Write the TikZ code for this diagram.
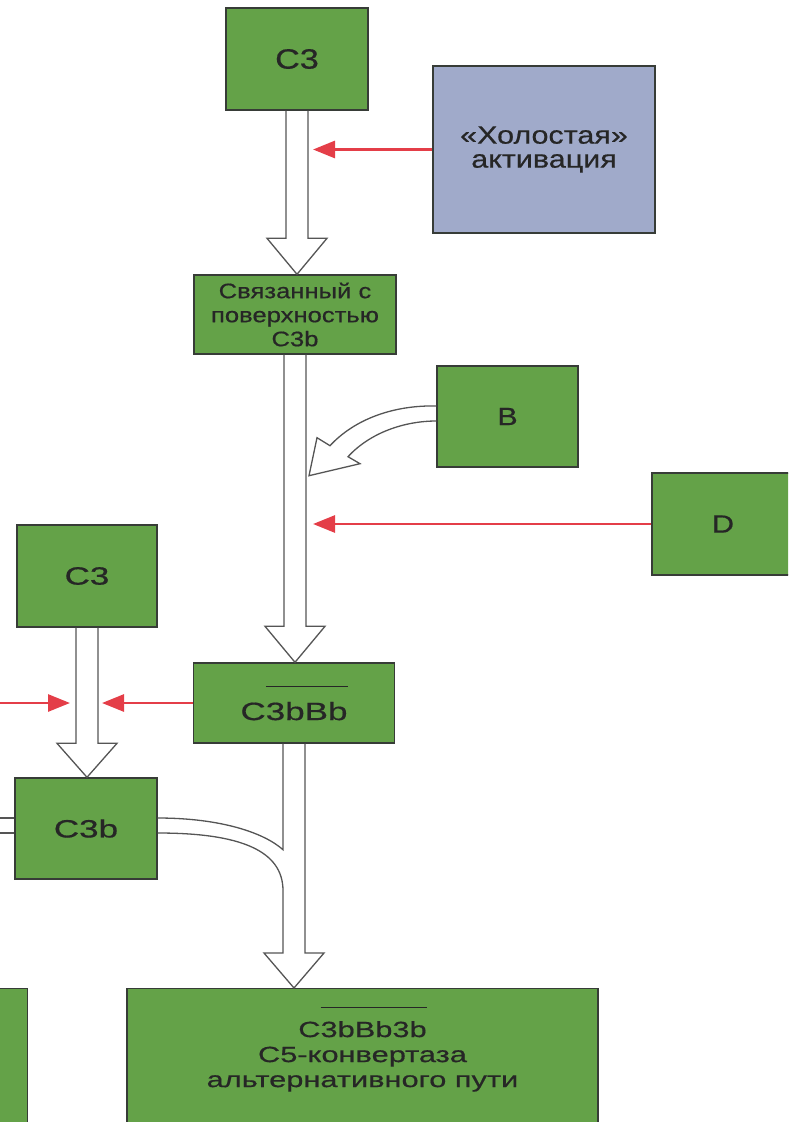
\documentclass[tikz,border=0pt]{standalone}
\usepackage{fontspec}
\setmainfont{Liberation Sans}
\newfontfamily\widefont[FakeStretch=1.22, FakeBold=0.6]{Liberation Sans}
\newfontfamily\widerfont[FakeStretch=1.4, FakeBold=0.6]{Liberation Sans}
\usetikzlibrary{calc, arrows.meta}
\definecolor{leaf}{RGB}{100,162,72}
\definecolor{slate}{RGB}{160,170,202}
\definecolor{edge}{RGB}{55,60,55}
\definecolor{shaft}{RGB}{85,85,85}
\definecolor{signal}{RGB}{228,62,72}
\tikzstyle{box} = [rectangle, draw=edge, line width=1.4pt, fill=leaf, text=black!85, inner sep=0pt, align=center]
\tikzstyle{greybox} = [box, fill=slate]
\tikzstyle{hollow} = [draw=shaft, line width=1.3pt, line join=miter]
\tikzstyle{redarrow} = [draw=signal, line width=2.8pt, -{Triangle[length=22pt, width=17pt]}]
\newcommand{\barover}[1]{\vbox{\hrule height 1.2pt\kern 0.6em\hbox{#1}}}

\begin{document}
\begin{tikzpicture}[x=1pt, y=-1pt]
	\useasboundingbox (0,0) rectangle (788,1122);
	\clip (0,0) rectangle (788,1122);

	\node (c3top) [box, minimum width=142, minimum height=102, font={\widefont\fontsize{28}{30}\selectfont}] at (297,59) {C3};
	\node (holost) [greybox, minimum width=222, minimum height=167, font={\widefont\fontsize{25}{24}\selectfont}] at (544,149.5) {«Холостая»\\активация};
	\node (svyaz) [box, minimum width=202, minimum height=79, font={\widefont\fontsize{21}{24}\selectfont}] at (295,314.5) {Связанный с\\поверхностью\\C3b};
	\node (bbox) [box, minimum width=141, minimum height=101, font={\widefont\fontsize{25}{28}\selectfont}] at (507.5,416.5) {B};
	\node (dbox) [box, minimum width=142, minimum height=102, font={\widefont\fontsize{25}{28}\selectfont}] at (723,524) {D};
	\node (c3left) [box, minimum width=140, minimum height=102, font={\widerfont\fontsize{25}{28}\selectfont}] at (87,576) {C3};
	\node (c3bbb) [box, minimum width=201, minimum height=80, font={\widerfont\fontsize{25}{28}\selectfont}] at (294,703) {C\barover{3bBb}};
	\node (c3b) [box, minimum width=142, minimum height=101, font={\widerfont\fontsize{25}{28}\selectfont}] at (86,828.5) {C3b};
	\node (conv) [box, anchor=north, minimum width=471, inner ysep=18pt, text depth=160pt, font={\widerfont\fontsize{22}{25}\selectfont}] at (362.5,988) {C\barover{3bBb3b}\\C5-конвертаза\\альтернативного пути};
	\node (side) [box, anchor=north east, minimum width=80, minimum height=200] at (28,988) {};

	\coordinate (bhit) at ($(svyaz.south)+(14,121)$);
	\coordinate (offred) at ($(c3left.south|-c3bbb.west)+(-120,0)$);

	\draw [hollow] ($(c3top.south)+(-11,0)$) -- ($(c3top.south|-svyaz.north)+(-11,-36)$) -- ++(-19,0) -- (c3top.south|-svyaz.north) -- ++(30,-36) -- ++(-19,0) -- ($(c3top.south)+(11,0)$);
	\draw [hollow] ($(svyaz.south)+(-11,0)$) -- ($(svyaz.south|-c3bbb.north)+(-11,-36)$) -- ++(-19,0) -- (svyaz.south|-c3bbb.north) -- ++(30,-36) -- ++(-19,0) -- ($(svyaz.south)+(11,0)$);
	\draw [hollow] ($(c3left.south)+(-11,0)$) -- ($(c3left.south|-c3b.north)+(-11,-34)$) -- ++(-19,0) -- (c3left.south|-c3b.north) -- ++(30,-34) -- ++(-19,0) -- ($(c3left.south)+(11,0)$);

	\draw [hollow] ($(bbox.west)+(0,-10.5)$) .. controls +(-42,-1) and +(25,-27) .. ($(bhit)+(21,-30)$) -- ($(bhit)+(8,-38)$) -- (bhit) -- ($(bhit)+(51,-12)$) -- ($(bhit)+(39,-19)$) .. controls +(22,-24) and +(-32,0) .. ($(bbox.west)+(0,4.5)$);

	\draw [hollow] ($(c3bbb.south)+(11,0)$) -- ($(c3bbb.south|-conv.north)+(11,-35)$) -- ++(19,0) -- (c3bbb.south|-conv.north) -- ++(-30,-35) -- ++(19,0) -- ($(c3bbb.south)+(-11,147)$) .. controls +(0,-40) and +(83,0) .. ($(c3b.east)+(0,4.5)$);
	\draw [hollow] ($(c3bbb.south)+(-11,0)$) -- ++(0,106) .. controls +(-19,-17) and +(63,0) .. ($(c3b.east)+(0,-10.5)$);
	\draw [hollow] ($(c3b.west)+(0,-10.5)$) -- ++(-40,0);
	\draw [hollow] ($(c3b.west)+(0,4.5)$) -- ++(-40,0);

	\draw [redarrow] (holost.west) -- ($(c3top.south|-holost.west)+(16,0)$);
	\draw [redarrow] (dbox.west) -- ($(svyaz.south|-dbox.west)+(18,0)$);
	\draw [redarrow] (c3bbb.west) -- ($(c3left.south|-c3bbb.west)+(15,0)$);
	\draw [redarrow] (offred) -- ($(c3left.south|-c3bbb.west)+(-17,0)$);

\end{tikzpicture}
\end{document}
